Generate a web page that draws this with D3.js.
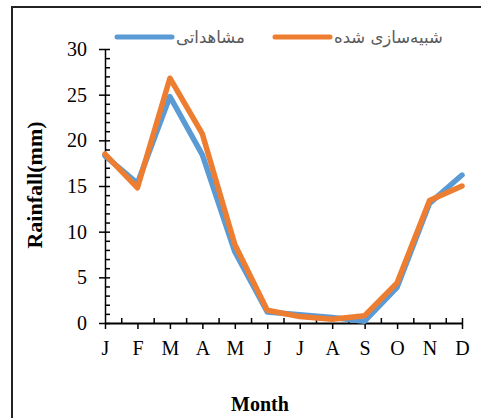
<!DOCTYPE html>
<html>
<head>
<meta charset="utf-8">
<script src="https://cdn.jsdelivr.net/npm/d3@7/dist/d3.min.js"></script>
<style>
html,body{margin:0;padding:0;background:#fff;}
svg{display:block;}
</style>
</head>
<body>
<svg id="chart" width="481" height="418"></svg>
<script>
const months = ["J","F","M","A","M","J","J","A","S","O","N","D"];
const observed = [18.3, 15.3, 24.8, 18.4, 7.8, 1.2, 0.9, 0.6, 0.2, 3.9, 13.1, 16.2];
const simulated = [18.5, 14.8, 26.8, 20.7, 8.6, 1.4, 0.7, 0.4, 0.8, 4.4, 13.4, 15.0];
const yTicks = [0, 5, 10, 15, 20, 25, 30];
const seriesNames = ["مشاهداتی", "شبیه\u200cسازی شده"];
const seriesColors = ["#5B9BD5", "#ED7D31"];

const svg = d3.select("#chart");
const serif = "'Liberation Serif','Times New Roman',serif";

// outer frame
svg.append("rect").attr("x", 12).attr("y", 7).attr("width", 490).attr("height", 430)
  .attr("fill", "none").attr("stroke", "#222").attr("stroke-width", 2);

const x0 = 105, x1 = 462, yB = 323, yT = 49;
const idx = d3.range(months.length);
const x = d3.scaleLinear().domain([0, months.length - 1]).range([x0, x1]);
const y = d3.scaleLinear().domain([0, 30]).range([yB, yT]);

const g = svg.append("g");

// minor y ticks (inside)
g.append("g").attr("transform", `translate(${x0},0)`)
  .call(d3.axisRight(y).tickValues(d3.range(0, 31, 1)).tickSize(5).tickFormat(""))
  .call(a => a.select(".domain").remove())
  .call(a => a.selectAll("line").attr("stroke", "#000").attr("stroke-width", 1.5));
// major y axis
g.append("g").attr("transform", `translate(${x0},0)`)
  .call(d3.axisLeft(y).tickValues(yTicks).tickSize(6).tickSizeOuter(0).tickPadding(12))
  .call(a => a.select(".domain").attr("stroke", "#000").attr("stroke-width", 1.5))
  .call(a => a.selectAll("line").attr("stroke", "#000").attr("stroke-width", 1.5))
  .call(a => a.selectAll("text").attr("font-family", serif).attr("font-size", 20).attr("fill", "#000"));

// minor x ticks (inside, between months and at right end)
const minorX = idx.slice(0, -1).map(i => i + 0.5).concat([months.length - 1]);
g.append("g").attr("transform", `translate(0,${yB})`)
  .call(d3.axisTop(x).tickValues(minorX).tickSize(5).tickFormat(""))
  .call(a => a.select(".domain").remove())
  .call(a => a.selectAll("line").attr("stroke", "#000").attr("stroke-width", 1.5));
// major x axis
g.append("g").attr("transform", `translate(0,${yB})`)
  .call(d3.axisBottom(x).tickValues(idx).tickSize(6).tickSizeOuter(0).tickPadding(12).tickFormat(i => months[i]))
  .call(a => a.select(".domain").attr("stroke", "#000").attr("stroke-width", 2))
  .call(a => a.selectAll("line").attr("stroke", "#000").attr("stroke-width", 1.5))
  .call(a => a.selectAll("text").attr("font-family", serif).attr("font-size", 20).attr("fill", "#000"));

// lines
const line = d3.line().x((d, i) => x(i)).y(d => y(d));
[observed, simulated].forEach((s, k) => {
  svg.append("path").datum(s).attr("d", line).attr("fill", "none")
    .attr("stroke", seriesColors[k]).attr("stroke-width", 5.5)
    .attr("stroke-linejoin", "round").attr("stroke-linecap", "round");
});

// axis titles
svg.append("text").attr("transform", "translate(42,185) rotate(-90)")
  .attr("text-anchor", "middle").attr("font-family", serif).attr("font-weight", "bold")
  .attr("font-size", 22).text("Rainfall(mm)");
svg.append("text").attr("x", 260).attr("y", 411)
  .attr("text-anchor", "middle").attr("font-family", serif).attr("font-weight", "bold")
  .attr("font-size", 20).text("Month");

// legend
const legendX = [117, 275];
seriesNames.forEach((name, k) => {
  const lx = legendX[k];
  svg.append("line").attr("x1", lx).attr("x2", lx + 55).attr("y1", 37).attr("y2", 37)
    .attr("stroke", seriesColors[k]).attr("stroke-width", 5).attr("stroke-linecap", "round");
  svg.append("text").attr("x", lx + 59).attr("y", 43)
    .attr("font-family", "'DejaVu Sans','Liberation Sans',sans-serif").attr("font-size", 16.5)
    .attr("fill", "#595959").attr("text-anchor", "start").attr("direction", "ltr")
    .text(name);
});
</script>
</body>
</html>
